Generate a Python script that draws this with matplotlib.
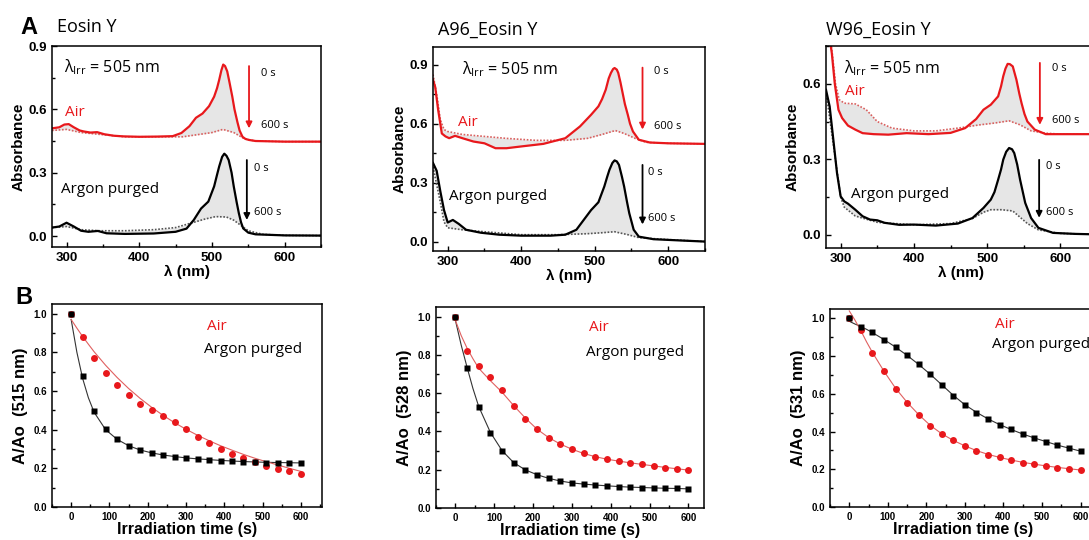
import numpy as np
import matplotlib
matplotlib.use('Agg')
import matplotlib.pyplot as plt
from matplotlib.ticker import MultipleLocator

plt.rcParams['font.family'] = ['Liberation Sans', 'DejaVu Sans']
plt.rcParams['mathtext.fontset'] = 'custom'
plt.rcParams['mathtext.rm'] = 'Open Sans'
plt.rcParams['xtick.direction'] = 'in'
plt.rcParams['ytick.direction'] = 'in'

RED = '#e8181c'
TXT = 'Open Sans'

####################################################
# UV-vis spectra: wavelength (nm) / absorbance, first (0 s) and last (600 s) scan

# Eosin Y, air
ey_air_wl0 = [280, 290, 297, 303, 310, 318, 324, 333, 342, 352, 365, 378, 400, 425, 446, 458, 469, 478, 487, 496,
              503, 507, 510, 513, 515.5, 518, 521, 524, 528, 531, 535, 538, 542, 546, 551, 560, 600, 650]
ey_air_a0 = [0.51, 0.515, 0.528, 0.53, 0.515, 0.50, 0.495, 0.49, 0.492, 0.482, 0.475, 0.472, 0.470, 0.471, 0.473, 0.488,
             0.52, 0.56, 0.58, 0.615, 0.66, 0.70, 0.74, 0.785, 0.812, 0.805, 0.78, 0.73, 0.66, 0.60, 0.54, 0.50, 0.47, 0.46,
             0.455, 0.45, 0.447, 0.447]
ey_air_wl1 = [280, 300, 320, 350, 380, 420, 460, 480, 500, 515, 530, 545, 560, 600, 650]
ey_air_a1 = [0.50, 0.505, 0.49, 0.48, 0.47, 0.47, 0.47, 0.48, 0.49, 0.505, 0.49, 0.46, 0.45, 0.447, 0.447]

# Eosin Y, argon purged
ey_ar_wl0 = [280, 290, 300, 310, 320, 330, 343, 355, 380, 420, 450, 465, 475, 485, 495, 503, 507, 510, 514, 517,
             520, 523, 527, 530, 534, 537, 540, 543, 550, 560, 600, 650]
ey_ar_a0 = [0.04, 0.045, 0.063, 0.045, 0.025, 0.02, 0.024, 0.013, 0.01, 0.012, 0.02, 0.035, 0.076, 0.13, 0.163, 0.235,
            0.29, 0.33, 0.375, 0.39, 0.38, 0.36, 0.30, 0.235, 0.16, 0.108, 0.065, 0.036, 0.016, 0.008, 0.003, 0.002]
ey_ar_wl1 = [280, 300, 320, 345, 380, 420, 450, 470, 490, 505, 520, 530, 540, 550, 570, 600, 650]
ey_ar_a1 = [0.04, 0.045, 0.03, 0.025, 0.025, 0.03, 0.04, 0.06, 0.08, 0.092, 0.09, 0.075, 0.05, 0.025, 0.008, 0.003, 0.002]

# A96_Eosin Y, air
a96_air_wl0 = [280, 283, 287, 292, 297, 302, 310, 320, 335, 350, 365, 380, 400, 430, 460, 480, 495, 505, 510, 515,
               519, 522, 525, 527, 530, 532, 535, 538, 541, 545, 548, 552, 560, 575, 600, 650]
a96_air_a0 = [0.823, 0.786, 0.67, 0.55, 0.535, 0.526, 0.538, 0.526, 0.509, 0.50, 0.475, 0.475, 0.484, 0.497, 0.526,
              0.586, 0.645, 0.688, 0.725, 0.773, 0.83, 0.858, 0.878, 0.883, 0.875, 0.858, 0.81, 0.755, 0.70, 0.645,
              0.60, 0.56, 0.518, 0.504, 0.50, 0.497]
a96_air_wl1 = [280, 285, 290, 295, 300, 320, 350, 380, 420, 460, 490, 510, 528, 540, 555, 570, 600, 650]
a96_air_a1 = [0.85, 0.75, 0.62, 0.57, 0.56, 0.545, 0.535, 0.525, 0.515, 0.515, 0.525, 0.545, 0.565, 0.55, 0.525, 0.505,
              0.50, 0.497]

# A96_Eosin Y, argon purged
a96_ar_wl0 = [280, 285, 290, 295, 300, 307, 315, 325, 345, 370, 400, 440, 460, 475, 485, 495, 505, 513, 517, 520,
              524, 527, 530, 533, 537, 540, 544, 547, 553, 560, 580, 620, 650]
a96_ar_a0 = [0.40, 0.36, 0.255, 0.16, 0.097, 0.11, 0.09, 0.06, 0.045, 0.035, 0.03, 0.03, 0.035, 0.06, 0.11, 0.16, 0.20,
             0.28, 0.33, 0.365, 0.40, 0.413, 0.408, 0.39, 0.33, 0.28, 0.20, 0.144, 0.06, 0.025, 0.012, 0.005, 0.0]
a96_ar_wl1 = [280, 290, 295, 300, 320, 350, 400, 450, 490, 510, 527, 545, 560, 600, 650]
a96_ar_a1 = [0.38, 0.20, 0.10, 0.07, 0.06, 0.05, 0.035, 0.035, 0.04, 0.045, 0.05, 0.035, 0.02, 0.01, 0.0]

# W96_Eosin Y, air
w96_air_wl0 = [284, 288, 292, 297, 302, 310, 320, 330, 345, 365, 390, 420, 450, 470, 485, 495, 505, 515, 519, 522,
               525, 528, 531, 535, 540, 544, 547, 551, 555, 565, 580, 600, 650]
w96_air_a0 = [0.80, 0.72, 0.60, 0.497, 0.464, 0.434, 0.418, 0.404, 0.40, 0.398, 0.404, 0.40, 0.405, 0.424, 0.46,
              0.497, 0.517, 0.55, 0.59, 0.63, 0.66, 0.679, 0.678, 0.669, 0.616, 0.56, 0.523, 0.48, 0.45, 0.418, 0.40,
              0.40, 0.40]
w96_air_wl1 = [285, 288, 293, 298, 305, 320, 335, 350, 370, 400, 430, 460, 490, 510, 530, 545, 560, 580, 600, 650]
w96_air_a1 = [0.80, 0.735, 0.60, 0.537, 0.523, 0.52, 0.497, 0.45, 0.424, 0.413, 0.413, 0.424, 0.437, 0.444, 0.453,
              0.437, 0.413, 0.404, 0.40, 0.40]

# W96_Eosin Y, argon purged
w96_ar_wl0 = [280, 285, 290, 295, 300, 305, 310, 320, 330, 340, 350, 360, 380, 400, 430, 460, 480, 495, 505, 510,
              515, 519, 522, 526, 530, 534, 537, 541, 545, 552, 560, 570, 590, 620, 650]
w96_ar_a0 = [0.576, 0.51, 0.378, 0.246, 0.153, 0.133, 0.124, 0.10, 0.074, 0.061, 0.058, 0.048, 0.04, 0.041, 0.037,
             0.045, 0.067, 0.107, 0.14, 0.17, 0.219, 0.26, 0.299, 0.33, 0.345, 0.34, 0.325, 0.28, 0.219, 0.127, 0.067,
             0.028, 0.008, 0.004, 0.002]
w96_ar_wl1 = [280, 290, 300, 305, 320, 350, 400, 450, 480, 495, 505, 520, 535, 545, 555, 570, 600, 650]
w96_ar_a1 = [0.57, 0.36, 0.15, 0.11, 0.075, 0.05, 0.04, 0.045, 0.065, 0.09, 0.10, 0.10, 0.095, 0.07, 0.045, 0.02,
             0.006, 0.002]

####################################################
# Kinetics: A/Ao at the absorption maximum vs irradiation time
t_irr = [0, 30, 60, 90, 120, 150, 180, 210, 240, 270, 300, 330, 360, 390, 420, 450, 480, 510, 540, 570, 600]

ey_air_k = [1.0, 0.878, 0.772, 0.694, 0.633, 0.579, 0.534, 0.501, 0.470, 0.442, 0.402, 0.360, 0.329, 0.299, 0.273,
            0.256, 0.233, 0.210, 0.197, 0.186, 0.172]
ey_ar_k = [1.0, 0.678, 0.496, 0.403, 0.350, 0.317, 0.294, 0.278, 0.270, 0.259, 0.252, 0.247, 0.243, 0.240, 0.237,
           0.233, 0.233, 0.230, 0.230, 0.228, 0.228]
a96_air_k = [1.0, 0.821, 0.742, 0.684, 0.617, 0.534, 0.466, 0.411, 0.367, 0.334, 0.308, 0.286, 0.265, 0.255, 0.246,
             0.236, 0.228, 0.220, 0.211, 0.206, 0.199]
a96_ar_k = [1.0, 0.733, 0.527, 0.392, 0.299, 0.237, 0.199, 0.174, 0.155, 0.141, 0.130, 0.125, 0.121, 0.116, 0.112,
            0.109, 0.107, 0.105, 0.104, 0.102, 0.100]
w96_air_k = [1.0, 0.938, 0.818, 0.720, 0.628, 0.554, 0.488, 0.432, 0.388, 0.354, 0.324, 0.297, 0.278, 0.264, 0.248,
             0.235, 0.227, 0.216, 0.209, 0.202, 0.195]
w96_ar_k = [1.0, 0.956, 0.927, 0.888, 0.848, 0.804, 0.756, 0.704, 0.648, 0.591, 0.540, 0.501, 0.467, 0.437, 0.412,
            0.386, 0.366, 0.347, 0.327, 0.312, 0.296]

# fitted decay curves
fit_t = [0, 15, 30, 45, 60, 90, 120, 150, 180, 210, 240, 270, 300, 330, 360, 390, 420, 450, 480, 510, 540, 570, 600]
ey_air_fit = [0.97, 0.925, 0.882, 0.842, 0.803, 0.733, 0.670, 0.613, 0.562, 0.516, 0.474, 0.436, 0.402, 0.371, 0.343,
              0.317, 0.294, 0.272, 0.252, 0.234, 0.217, 0.200, 0.184]
ey_ar_fit = [0.97, 0.80, 0.665, 0.565, 0.49, 0.40, 0.350, 0.317, 0.295, 0.280, 0.269, 0.261, 0.254, 0.249, 0.245,
             0.241, 0.238, 0.235, 0.233, 0.231, 0.230, 0.229, 0.228]
a96_air_fit = [0.98, 0.90, 0.835, 0.78, 0.73, 0.665, 0.605, 0.535, 0.47, 0.412, 0.368, 0.334, 0.307, 0.285, 0.268,
               0.255, 0.245, 0.236, 0.228, 0.220, 0.212, 0.205, 0.198]
a96_ar_fit = [0.98, 0.85, 0.735, 0.625, 0.53, 0.395, 0.300, 0.237, 0.199, 0.174, 0.155, 0.141, 0.131, 0.125, 0.120,
              0.116, 0.112, 0.109, 0.107, 0.105, 0.103, 0.102, 0.100]
w96_air_fit = [1.04, 0.99, 0.935, 0.875, 0.82, 0.72, 0.630, 0.555, 0.490, 0.433, 0.388, 0.353, 0.324, 0.299, 0.279,
               0.263, 0.249, 0.237, 0.227, 0.218, 0.210, 0.203, 0.196]
w96_ar_fit = [0.985, 0.97, 0.957, 0.942, 0.925, 0.888, 0.848, 0.804, 0.756, 0.704, 0.648, 0.592, 0.542, 0.502, 0.467,
              0.437, 0.411, 0.387, 0.366, 0.347, 0.328, 0.312, 0.296]


W, H = 1089, 540
fig = plt.figure(figsize=(W / 100, H / 100), dpi=100)


def box(l, t, r, b):
    # axes from pixel box (left, top, right, bottom)
    return fig.add_axes([l / W, 1 - b / H, (r - l) / W, (b - t) / H])


def style(ax, fs):
    for s in ax.spines.values():
        s.set_linewidth(1.1)
    ax.tick_params(which='both', top=False, right=False, labelsize=fs, width=1.0)
    ax.tick_params(which='major', length=3.5)
    ax.tick_params(which='minor', length=2)
    for lab in ax.get_xticklabels() + ax.get_yticklabels():
        lab.set_fontweight('bold')


def spectra(ax, air0, air1, ar0, ar1, ylim, ymaj):
    for (wl0, a0), (wl1, a1), c, dc in [(air0, air1, RED, '#d9605f'), (ar0, ar1, 'black', '#555555')]:
        wl = np.union1d(wl0, wl1)
        top = np.interp(wl, wl0, a0)
        bot = np.interp(wl, wl1, a1)
        ax.fill_between(wl, bot, top, color='#e6e6e6', lw=0)
        ax.plot(wl1, a1, ls=(0, (1, 1)), color=dc, lw=1.2)
        ax.plot(wl0, a0, color=c, lw=1.6)
    ax.set_xlim(280, 650)
    ax.set_ylim(*ylim)
    ax.xaxis.set_major_locator(MultipleLocator(100))
    ax.xaxis.set_minor_locator(MultipleLocator(50))
    ax.yaxis.set_major_locator(MultipleLocator(ymaj))
    ax.yaxis.set_minor_locator(MultipleLocator(ymaj / 2))
    ax.set_ylabel('Absorbance', fontsize=11, fontweight='bold', labelpad=2)
    ax.set_xlabel('λ (nm)', fontsize=11, fontweight='bold', labelpad=1)
    style(ax, 9.5)


def arrows(ax, x, red, black, lab):
    for (y0, y1), c, (tx, t0, t1) in [(red, RED, lab[0]), (black, 'black', lab[1])]:
        ax.annotate('', xy=(x[0] if c == RED else x[1], y1), xytext=(x[0] if c == RED else x[1], y0),
                    arrowprops=dict(arrowstyle='-|>', color=c, lw=1.3, mutation_scale=9, shrinkA=0, shrinkB=0))
        ax.text(tx, t0, '0 s', fontsize=8, family=TXT, va='center')
        ax.text(tx, t1, '600 s', fontsize=8, family=TXT, va='center')


def labels(ax, lam, air, argon):
    ax.text(lam[0], lam[1], 'λ$_{\\mathregular{Irr}}$ = 505 nm', fontsize=11.5, family=TXT, va='center')
    ax.text(air[0], air[1], 'Air', fontsize=11, family=TXT, color=RED, va='center')
    ax.text(argon[0], argon[1], 'Argon purged', fontsize=11, family=TXT, va='center')


# ---- A: spectra
ax1 = box(52, 46, 321, 247)
spectra(ax1, (ey_air_wl0, ey_air_a0), (ey_air_wl1, ey_air_a1), (ey_ar_wl0, ey_ar_a0), (ey_ar_wl1, ey_ar_a1),
        (-0.052, 0.9), 0.3)
labels(ax1, (297, 0.80), (298, 0.585), (292, 0.22))
arrows(ax1, (551, 548), (0.805, 0.51), (0.36, 0.076), ((567, 0.77, 0.525), (558, 0.32, 0.11)))

ax2 = box(433, 47, 705, 251)
spectra(ax2, (a96_air_wl0, a96_air_a0), (a96_air_wl1, a96_air_a1), (a96_ar_wl0, a96_ar_a0), (a96_ar_wl1, a96_ar_a1),
        (-0.048, 0.99), 0.3)
labels(ax2, (319, 0.875), (314, 0.605), (302, 0.23))
arrows(ax2, (565, 565), (0.885, 0.57), (0.39, 0.087), ((580, 0.864, 0.585), (573, 0.35, 0.117)))

ax3 = box(826, 46, 1097, 248)
spectra(ax3, (w96_air_wl0, w96_air_a0), (w96_air_wl1, w96_air_a1), (w96_ar_wl0, w96_ar_a0), (w96_ar_wl1, w96_ar_a1),
        (-0.052, 0.75), 0.3)
labels(ax3, (304, 0.663), (306, 0.57), (314, 0.16))
arrows(ax3, (572, 571), (0.683, 0.437), (0.298, 0.068), ((588, 0.66, 0.453), (580, 0.27, 0.09)))

fig.text(20 / W, 1 - 28 / H, 'A', fontsize=17, fontweight='bold', va='center')
fig.text(57 / W, 1 - 27 / H, 'Eosin Y', fontsize=13, family=TXT, va='center')
fig.text(438 / W, 1 - 30 / H, 'A96_Eosin Y', fontsize=13, family=TXT, va='center')
fig.text(826 / W, 1 - 30 / H, 'W96_Eosin Y', fontsize=13, family=TXT, va='center')


# ---- B: kinetics
def kinetics(ax, air, argon, air_fit, ar_fit, nm, xmax, air_pos, ar_pos):
    ax.plot(fit_t, ar_fit, color='#333333', lw=0.8)
    ax.plot(fit_t, air_fit, color='#e06060', lw=0.8)
    ax.plot(t_irr, air, 'o', color=RED, ms=5, mec='none')
    ax.plot(t_irr, argon, 's', color='black', ms=4.3, mec='none')
    ax.set_xlim(-50, xmax)
    ax.set_ylim(0, 1.05)
    ax.xaxis.set_major_locator(MultipleLocator(100))
    ax.xaxis.set_minor_locator(MultipleLocator(50))
    ax.yaxis.set_major_locator(MultipleLocator(0.2))
    ax.yaxis.set_minor_locator(MultipleLocator(0.1))
    ax.yaxis.set_major_formatter(lambda v, p: f'{v:.1f}')
    ax.set_ylabel(f'A/Ao  ({nm} nm)', fontsize=12, fontweight='bold', labelpad=4)
    ax.set_xlabel('Irradiation time (s)', fontsize=11.5, fontweight='bold', labelpad=0)
    ax.text(air_pos[0], air_pos[1], 'Air', fontsize=11, family=TXT, color=RED, va='center')
    ax.text(ar_pos[0], ar_pos[1], 'Argon purged', fontsize=11, family=TXT, va='center')
    style(ax, 7)


ax4 = box(52, 304, 322, 507)
kinetics(ax4, ey_air_k, ey_ar_k, ey_air_fit, ey_ar_fit, 515, 655, (354, 0.932), (346, 0.817))
ax5 = box(436, 307, 704, 508)
kinetics(ax5, a96_air_k, a96_ar_k, a96_air_fit, a96_ar_fit, 528, 640, (343, 0.944), (335, 0.81))
ax6 = box(830, 309, 1096, 507)
kinetics(ax6, w96_air_k, w96_ar_k, w96_air_fit, w96_ar_fit, 531, 640, (377, 0.97), (369, 0.86))

fig.text(15 / W, 1 - 298 / H, 'B', fontsize=17, fontweight='bold', va='center')

fig.savefig('out.png', dpi=100, facecolor='white')
